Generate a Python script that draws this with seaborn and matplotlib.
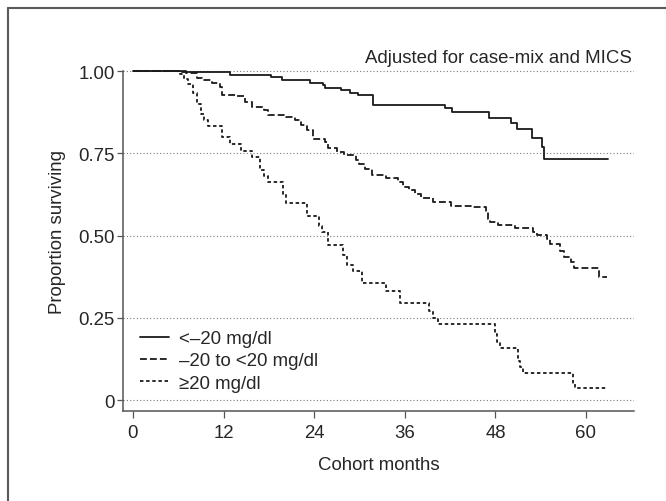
import matplotlib
matplotlib.use("Agg")
import matplotlib.pyplot as plt
import seaborn as sns
import pandas as pd
from matplotlib.lines import Line2D

# ---- data ----
groups = ["<\u201320 mg/dl", "\u201320 to <20 mg/dl", "\u226520 mg/dl"]

low_t = [0, 6.5, 12.8, 18.3, 19.8, 23.5, 25.2, 25.5, 27.6, 28.7, 29.8, 31.8,
         41.3, 42.3, 47.2, 50.1, 50.8, 52.85, 54.2, 54.4, 62.9]
low_s = [1.0, 0.996, 0.989, 0.981, 0.972, 0.964, 0.959, 0.949, 0.941, 0.934, 0.926, 0.898,
         0.889, 0.874, 0.858, 0.841, 0.823, 0.796, 0.768, 0.733, 0.733]

mid_t = [0, 7.0, 8.5, 9.2, 10.5, 11.5, 11.8, 13.8, 14.9, 15.7, 17.3, 17.9, 20.3, 21.5,
         22.3, 23.0, 23.8, 25.4, 25.8, 27.0, 27.9, 29.6, 30.0, 30.7, 31.6, 33.5, 35.1,
         35.8, 36.5, 37.4, 38.2, 39.8, 42.1, 45.0, 46.7, 47.0, 47.3, 48.4, 50.6, 53.0,
         53.5, 54.8, 55.2, 56.5, 57.1, 58.0, 58.4, 61.7, 62.8]
mid_s = [1.0, 0.995, 0.98, 0.973, 0.963, 0.95, 0.928, 0.924, 0.906, 0.89, 0.882, 0.867,
         0.861, 0.85, 0.835, 0.82, 0.793, 0.784, 0.765, 0.753, 0.746, 0.73, 0.717, 0.702,
         0.684, 0.675, 0.663, 0.648, 0.638, 0.626, 0.615, 0.601, 0.59, 0.586, 0.57, 0.55,
         0.54, 0.533, 0.523, 0.51, 0.502, 0.49, 0.474, 0.454, 0.434, 0.418, 0.401, 0.375,
         0.375]

high_t = [0, 6.2, 6.8, 7.3, 7.9, 8.5, 9.0, 9.4, 9.9, 11.8, 12.9, 14.3, 15.7, 16.8, 17.3,
          17.9, 19.9, 20.3, 23.1, 24.6, 25.0, 25.8, 27.8, 28.3, 29.1, 30.3, 33.5, 35.4,
          39.2, 39.7, 40.4, 47.9, 48.2, 48.6, 51.0, 51.3, 51.7, 58.3, 58.6, 62.8]
high_s = [1.0, 0.99, 0.975, 0.96, 0.933, 0.90, 0.87, 0.85, 0.834, 0.80, 0.778, 0.757,
          0.74, 0.70, 0.68, 0.662, 0.625, 0.598, 0.558, 0.53, 0.51, 0.472, 0.44, 0.41,
          0.393, 0.355, 0.33, 0.295, 0.27, 0.25, 0.231, 0.20, 0.175, 0.157, 0.12, 0.10,
          0.081, 0.05, 0.036, 0.036]

x_ticks = [0, 12, 24, 36, 48, 60]
y_ticks = [0, 0.25, 0.5, 0.75, 1.0]
y_tick_labels = ["0", "0.25", "0.50", "0.75", "1.00"]

title = "Adjusted for case-mix and MICS"
xlabel = "Cohort months"
ylabel = "Proportion surviving"

frames = []
for g, t, s in zip(groups, [low_t, mid_t, high_t], [low_s, mid_s, high_s]):
    frames.append(pd.DataFrame({"month": t, "surv": s, "group": g}))
df = pd.concat(frames, ignore_index=True)

# ---- style ----
sns.set_theme(style="ticks")
plt.rcParams["font.family"] = ["Liberation Sans", "DejaVu Sans"]
TXT = "#262626"
AX = "#555555"
LINE = "#1a1a1a"
FS = 13.4
LW = 1.3

fig = plt.figure(figsize=(6.66, 5.02), dpi=100)
ax = fig.add_axes([123 / 666, 1 - 412 / 502, (634 - 123) / 666, (412 - 52.3) / 502])

dash_map = {groups[0]: "", groups[1]: (3.8, 1.7), groups[2]: (1.9, 1.5)}
sns.lineplot(data=df, x="month", y="surv", hue="group", style="group",
             palette=[LINE] * 3, dashes=dash_map, drawstyle="steps-post",
             estimator=None, sort=False, linewidth=LW, legend=False, ax=ax)

ax.set_xlim(-1.32, 66.36)
ax.set_ylim(-11 / 329, 1.06)
ax.set_xticks(x_ticks)
ax.set_yticks(y_ticks)
ax.set_yticklabels(y_tick_labels)
ax.tick_params(axis="x", length=5, width=0.9, color=AX, labelsize=FS, labelcolor=TXT, pad=4)
ax.tick_params(axis="y", length=4, width=0.9, color=AX, labelsize=FS, labelcolor=TXT, pad=2)
for side in ["top", "right"]:
    ax.spines[side].set_visible(False)
for side in ["left", "bottom"]:
    ax.spines[side].set_color(AX)
    ax.spines[side].set_linewidth(1.1)
ax.spines["left"].set_bounds(-11 / 329, 1.0)

ax.grid(axis="y", linestyle=(0, (1, 2)), color="#7a7a7a", linewidth=0.8)
ax.grid(axis="x", visible=False)
ax.set_axisbelow(True)

ax.set_xlabel(xlabel, fontsize=FS, color=TXT, labelpad=11)
ax.set_ylabel(ylabel, fontsize=FS, color=TXT, labelpad=9)
ax.text(66.1, 1.04, title, ha="right", va="center", fontsize=FS, color=TXT)

handles = []
for g in groups:
    h = Line2D([], [], color=LINE, lw=LW)
    if dash_map[g]:
        h.set_dashes(dash_map[g])
    handles.append(h)
leg = ax.legend(handles, groups, loc="upper left", frameon=False, fontsize=FS,
                handlelength=1.55, handletextpad=0.55, labelspacing=0.28,
                borderpad=0, borderaxespad=0)
for t in leg.get_texts():
    t.set_color(TXT)
leg.set_bbox_to_anchor((0.033, 0.225), transform=ax.transAxes)

# outer frame (left and top edges)
fig.add_artist(Line2D([7.5 / 666, 7.5 / 666], [0, 1 - 8.5 / 502], transform=fig.transFigure,
                      color="#5a5a5a", lw=1.5))
fig.add_artist(Line2D([7.5 / 666, 1.0], [1 - 8.5 / 502, 1 - 8.5 / 502], transform=fig.transFigure,
                      color="#5a5a5a", lw=1.5))

fig.savefig("out.png", dpi=100)
